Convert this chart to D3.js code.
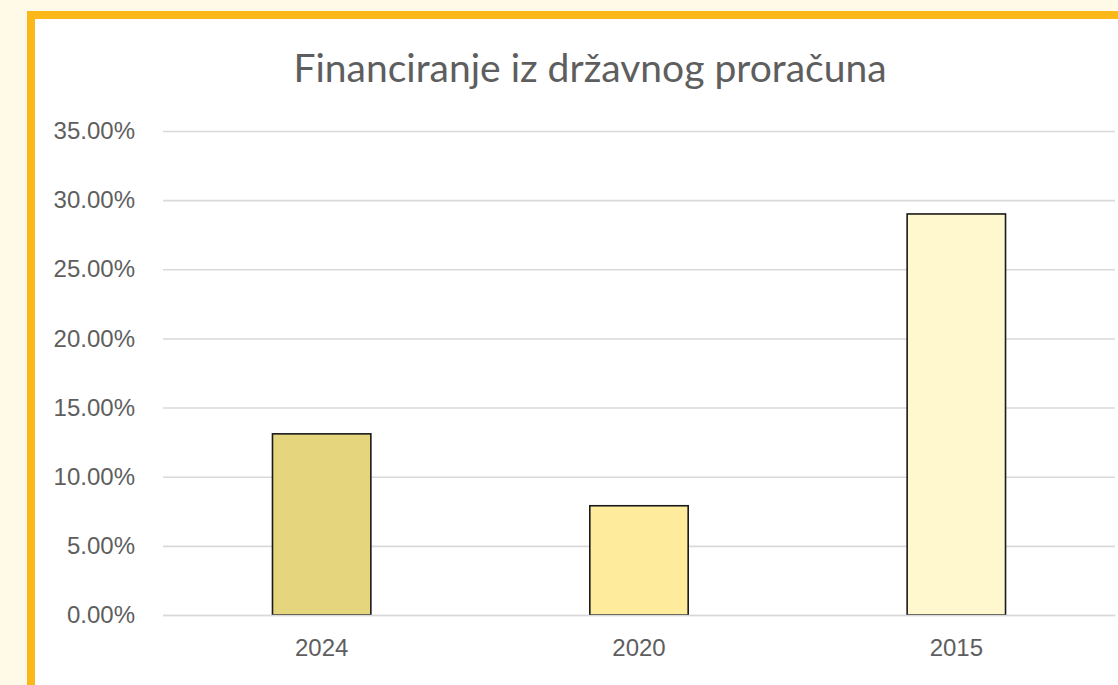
<!DOCTYPE html>
<meta charset="utf-8">
<script src="https://d3js.org/d3.v7.min.js"></script>
<style>
  html, body { margin: 0; padding: 0; background: #fff9e8; overflow: hidden; }
</style>
<div id="chart"></div>
<script>
// data
var years = ["2024", "2020", "2015"];
var shares = [0.131, 0.079, 0.290];
var barColors = ["#e5d67d", "#feeb9c", "#fff7cd"];
var yTicks = [0, 0.05, 0.10, 0.15, 0.20, 0.25, 0.30, 0.35];

var W = 1118, H = 685;

var svg = d3.select("#chart")
  .append("svg")
    .attr("width", W)
    .attr("height", H);

// yellow frame, runs past the right and bottom edges
svg.append("rect")
  .attr("x", 31).attr("y", 15)
  .attr("width", 1200).attr("height", 800)
  .style("fill", "#ffffff")
  .style("stroke", "#fbb919")
  .style("stroke-width", 8);

// title
svg.append("text")
  .attr("x", 590).attr("y", 82)
  .attr("text-anchor", "middle")
  .style("font-family", "Lato, 'Open Sans', sans-serif")
  .style("font-size", "39px")
  .style("fill", "#5e5e5e")
  .text("Financiranje iz državnog proračuna");

var x = d3.scaleBand()
  .domain(years)
  .range([163, 1115])
  .paddingInner(0.69)
  .paddingOuter(0.345);

var y = d3.scaleLinear()
  .domain([0, 0.35])
  .range([615, 131]);

// gridlines + y labels
var yAxis = svg.append("g")
  .attr("transform", "translate(163,0)")
  .call(d3.axisLeft(y)
    .tickValues(yTicks)
    .tickSize(-952)
    .tickPadding(28)
    .tickFormat(d3.format(".2%")));
yAxis.select(".domain").remove();
yAxis.selectAll("line")
  .style("stroke", "#d9d9d9")
  .style("stroke-width", 1.6);
yAxis.selectAll("text")
  .style("font-family", "'Liberation Sans', Arial, sans-serif")
  .style("font-size", "24px")
  .style("fill", "#5e5e5e");

// bars
svg.selectAll(".bar")
  .data(years)
  .enter()
  .append("rect")
    .attr("class", "bar")
    .attr("x", function(d) { return x(d); })
    .attr("y", function(d, i) { return y(shares[i]); })
    .attr("width", x.bandwidth())
    .attr("height", function(d, i) { return y(0) - y(shares[i]); })
    .style("fill", function(d, i) { return barColors[i]; })
    .style("stroke", "#1a1a1a")
    .style("stroke-width", 1.6);

// x axis line and labels
var xAxis = svg.append("g")
  .attr("transform", "translate(0,615)")
  .call(d3.axisBottom(x).tickSize(0).tickPadding(24));
xAxis.select(".domain")
  .style("stroke", "#d9d9d9")
  .style("stroke-width", 1.6);
xAxis.selectAll("text")
  .style("font-family", "'Liberation Sans', Arial, sans-serif")
  .style("font-size", "24px")
  .style("fill", "#5e5e5e");
</script>
